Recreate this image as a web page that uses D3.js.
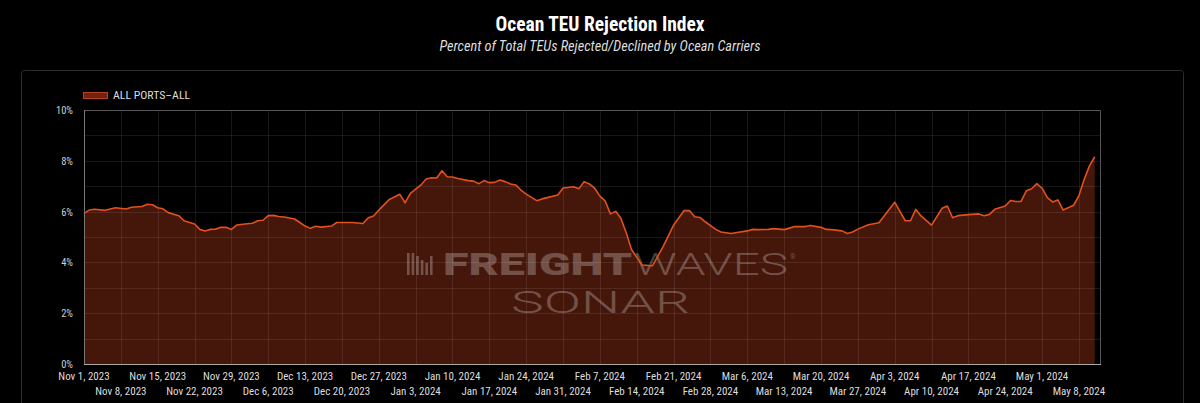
<!DOCTYPE html>
<html>
<head>
<meta charset="utf-8">
<title>Ocean TEU Rejection Index</title>
<script src="https://d3js.org/d3.v7.min.js"></script>
<style>
  html, body { margin: 0; padding: 0; background: #000; }
  svg { display: block; }
  .cond { font-family: "Roboto Condensed", "Liberation Sans Narrow", "DejaVu Sans Condensed", Roboto, sans-serif; font-stretch: condensed; }
</style>
</head>
<body>
<svg width="1200" height="403"></svg>
<script>
// data: days after the start date, and percent of TEUs rejected
var startDate = "2023-11-01";
var endDate = "2024-05-12";
var dayIndex = [
  0, 1, 2, 4, 6, 8, 9, 11, 12, 13, 14, 15, 16, 18, 19, 21, 22, 23, 24, 25,
  26, 27, 28, 29, 31, 32, 33, 34, 35, 36, 37, 38, 40, 41, 42, 43, 44, 45, 47, 48,
  51, 53, 54, 55, 56, 58, 60, 61, 62, 64, 65, 66, 67, 68, 69, 70, 71, 73, 74, 75,
  76, 77, 78, 79, 80, 81, 82, 83, 84, 86, 87, 88, 90, 91, 93, 94, 95, 96, 97, 98,
  99, 100, 101, 102, 103, 104, 106, 108, 110, 112, 114, 115, 116, 117, 118, 120, 121, 123, 124, 126,
  127, 128, 130, 131, 133, 134, 135, 137, 138, 140, 141, 142, 144, 145, 146, 147, 149, 151, 154, 156,
  157, 158, 159, 161, 163, 164, 165, 166, 168, 170, 171, 172, 173, 175, 176, 177, 178, 179, 180, 181,
  182, 183, 184, 185, 186, 188, 189, 190, 191, 192
];
var rejectionPct = [
  5.93, 6.06, 6.09, 6.05, 6.15, 6.10, 6.17, 6.20, 6.29, 6.27, 6.15, 6.11, 5.96, 5.84, 5.64, 5.51, 5.30, 5.24, 5.30, 5.31,
  5.38, 5.38, 5.30, 5.47, 5.52, 5.54, 5.64, 5.66, 5.84, 5.85, 5.81, 5.79, 5.71, 5.57, 5.43, 5.34, 5.42, 5.39, 5.43, 5.57,
  5.57, 5.53, 5.76, 5.83, 6.06, 6.48, 6.68, 6.35, 6.72, 7.05, 7.28, 7.33, 7.32, 7.61, 7.37, 7.36, 7.30, 7.22, 7.20, 7.10,
  7.22, 7.14, 7.15, 7.24, 7.18, 7.09, 7.05, 6.85, 6.69, 6.43, 6.50, 6.55, 6.65, 6.93, 6.98, 6.90, 7.18, 7.09, 6.92, 6.61,
  6.42, 5.91, 6.01, 5.73, 5.17, 4.51, 3.90, 3.87, 4.62, 5.47, 6.04, 6.04, 5.80, 5.77, 5.60, 5.30, 5.20, 5.14, 5.18, 5.24,
  5.30, 5.29, 5.30, 5.33, 5.29, 5.35, 5.41, 5.41, 5.45, 5.38, 5.30, 5.29, 5.24, 5.14, 5.20, 5.31, 5.48, 5.56, 6.37, 5.64,
  5.64, 6.09, 5.83, 5.47, 6.13, 6.22, 5.76, 5.84, 5.88, 5.91, 5.84, 5.89, 6.09, 6.22, 6.44, 6.40, 6.40, 6.82, 6.90, 7.10,
  6.92, 6.55, 6.38, 6.46, 6.06, 6.25, 6.63, 7.27, 7.80, 8.16
];
var yTicks = [0, 2, 4, 6, 8, 10];
var tickDates = [
  "2023-11-01", "2023-11-08", "2023-11-15", "2023-11-22", "2023-11-29", "2023-12-06", "2023-12-13",
  "2023-12-20", "2023-12-27", "2024-01-03", "2024-01-10", "2024-01-17", "2024-01-24", "2024-01-31",
  "2024-02-07", "2024-02-14", "2024-02-21", "2024-02-28", "2024-03-06", "2024-03-13", "2024-03-20",
  "2024-03-27", "2024-04-03", "2024-04-10", "2024-04-17", "2024-04-24", "2024-05-01", "2024-05-08"
];
var seriesName = "ALL PORTS\u2013ALL";

var svg = d3.select("svg");
var parse = d3.utcParse("%Y-%m-%d");
var fmt = d3.utcFormat("%b %-d, %Y");
var start = parse(startDate);

var data = dayIndex.map(function(d, i) {
  return {date: d3.utcDay.offset(start, d), value: rejectionPct[i]};
});

var plotL = 84, plotR = 1100, plotT = 110, plotB = 364;

var x = d3.scaleUtc()
    .domain([start, parse(endDate)])
    .range([plotL, plotR]);

var y = d3.scaleLinear()
    .domain([0, 10])
    .range([plotB, plotT]);

// title
svg.append("text")
    .attr("class", "cond")
    .attr("x", 600).attr("y", 31)
    .attr("text-anchor", "middle")
    .style("font-size", "19.5px").style("font-weight", "bold")
    .style("fill", "#fff")
    .text("Ocean TEU Rejection Index");

svg.append("text")
    .attr("class", "cond")
    .attr("x", 600).attr("y", 51)
    .attr("text-anchor", "middle")
    .style("font-size", "14.3px").style("font-style", "italic")
    .style("fill", "#ddd")
    .text("Percent of Total TEUs Rejected/Declined by Ocean Carriers");

// panel
svg.append("rect")
    .attr("x", 21.5).attr("y", 70.5)
    .attr("width", 1162).attr("height", 360)
    .attr("rx", 3)
    .style("fill", "#000").style("stroke", "#2c2c2c");

// legend
svg.append("rect")
    .attr("x", 83.5).attr("y", 92.5)
    .attr("width", 24).attr("height", 6)
    .style("fill", "#6e2410").style("stroke", "#b8401c");

svg.append("text")
    .attr("class", "cond")
    .attr("x", 113).attr("y", 99)
    .style("font-size", "11.8px")
    .style("fill", "#ddd")
    .text(seriesName);

// area + line
var area = d3.area()
    .x(function(d) { return x(d.date); })
    .y0(y(0))
    .y1(function(d) { return y(d.value); });

var line = d3.line()
    .x(function(d) { return x(d.date); })
    .y(function(d) { return y(d.value); });

svg.append("path")
    .datum(data)
    .attr("d", area)
    .style("fill", "#45170b");

// grid
var grid = svg.append("g").style("stroke", "rgba(255,255,255,0.09)").style("stroke-width", 1);

grid.selectAll(".hg")
    .data(d3.range(1, 10))
  .enter().append("line")
    .attr("x1", plotL).attr("x2", plotR)
    .attr("y1", function(d) { return Math.round(y(d)) + 0.5; })
    .attr("y2", function(d) { return Math.round(y(d)) + 0.5; });

grid.selectAll(".vg")
    .data(tickDates.slice(1))
  .enter().append("line")
    .attr("y1", plotT).attr("y2", plotB)
    .attr("x1", function(d) { return Math.round(x(parse(d))) + 0.5; })
    .attr("x2", function(d) { return Math.round(x(parse(d))) + 0.5; });

// watermark
var wm = svg.append("g").style("fill", "rgba(255,255,255,0.26)");
[22, 22, 19, 15, 12, 19].forEach(function(hh, i) {
  wm.append("rect")
      .attr("x", 407 + i * 4.6).attr("y", 275 - hh)
      .attr("width", 2.6).attr("height", hh);
});
wm.append("text")
    .attr("x", 443).attr("y", 275)
    .attr("textLength", 189).attr("lengthAdjust", "spacingAndGlyphs")
    .style("font-family", "Roboto, sans-serif")
    .style("font-size", "31px").style("font-weight", "900")
    .text("FREIGHT");
wm.append("text")
    .attr("x", 634).attr("y", 275)
    .attr("textLength", 154).attr("lengthAdjust", "spacingAndGlyphs")
    .style("font-family", "Roboto, sans-serif")
    .style("font-size", "31px").style("font-weight", "300")
    .text("WAVES");
wm.append("text")
    .attr("x", 790).attr("y", 259)
    .style("font-family", "Roboto, sans-serif")
    .style("font-size", "7px")
    .text("\u00AE");
wm.append("text")
    .attr("x", 511).attr("y", 313)
    .attr("textLength", 179).attr("lengthAdjust", "spacingAndGlyphs")
    .style("font-family", "Roboto, sans-serif")
    .style("font-size", "32px").style("font-weight", "300")
    .text("SONAR");

svg.append("path")
    .datum(data)
    .attr("d", line)
    .style("fill", "none")
    .style("stroke", "#e2501c")
    .style("stroke-width", 1.6)
    .style("stroke-linejoin", "round");

// frame
svg.append("path")
    .attr("d", "M" + plotL + "," + (plotT + 0.5) + "H" + (plotR + 0.5) + "V" + plotB)
    .style("fill", "none").style("stroke", "#555");
svg.append("line")
    .attr("x1", plotL + 0.5).attr("x2", plotL + 0.5)
    .attr("y1", plotT).attr("y2", plotB)
    .style("stroke", "#777");
svg.append("line")
    .attr("x1", plotL).attr("x2", plotR + 1)
    .attr("y1", plotB + 0.5).attr("y2", plotB + 0.5)
    .style("stroke", "#aaa");

// y labels
svg.selectAll(".ylab")
    .data(yTicks)
  .enter().append("text")
    .attr("class", "cond")
    .attr("x", 73)
    .attr("y", function(d) { return y(d) + 4; })
    .attr("text-anchor", "end")
    .style("font-size", "10.5px")
    .style("fill", "#ccc")
    .text(function(d) { return d + "%"; });

// x labels, alternating rows
svg.selectAll(".xlab")
    .data(tickDates)
  .enter().append("text")
    .attr("class", "cond")
    .attr("x", function(d) { return x(parse(d)); })
    .attr("y", function(d, i) { return i % 2 === 0 ? 380 : 395; })
    .attr("text-anchor", "middle")
    .style("font-size", "11px")
    .style("fill", "#ddd")
    .text(function(d) { return fmt(parse(d)); });
</script>
</body>
</html>
